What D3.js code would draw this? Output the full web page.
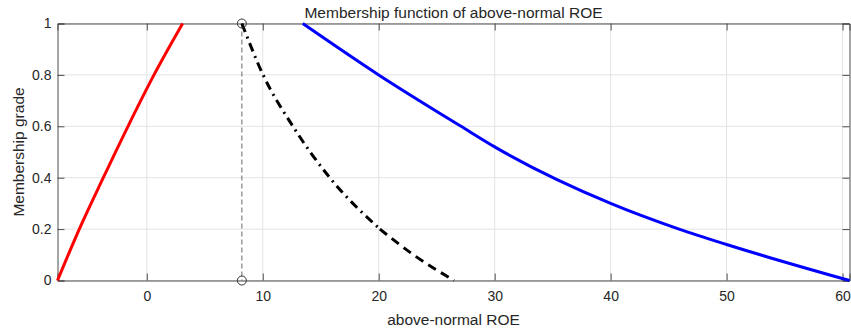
<!DOCTYPE html>
<html>
<head>
<meta charset="utf-8">
<script src="https://cdn.jsdelivr.net/npm/d3@7"></script>
<style>
  body { margin: 0; background: #fff; }
  text { font-family: "Liberation Sans", Arial, sans-serif; fill: #262626; }
</style>
</head>
<body>
<figure id="chart" style="margin:0"></figure>
<script>
// membership curves (x = above-normal ROE, y = grade)
const redX = [-7.7, -5.82, -3.75, -1.62, 0.62, 3.09];
const redY = [0, 0.2, 0.4, 0.6, 0.8, 1];

const blueX = [13.45, 20.0, 27.1, 30.0, 40.0, 45.9, 50.0, 60.6];
const blueY = [1, 0.8, 0.6, 0.52, 0.30, 0.2, 0.14, 0];

// black curve: dash-dot part then dashed part
const blackDashDotX = [8.2, 10.03, 12.6, 15.78, 20.1];
const blackDashDotY = [1, 0.8, 0.6, 0.4, 0.2];
const blackDashX = [20.1, 23.0, 26.5];
const blackDashY = [0.2, 0.1, 0];

const markerX = [8.2, 8.2];
const markerY = [1, 0];

const xTicks = [0, 10, 20, 30, 40, 50, 60];
const yTicks = [0, 0.2, 0.4, 0.6, 0.8, 1];

const width = 851, height = 329;
const margin = { top: 23.5, right: 1.5, bottom: 48.5, left: 57.5 };
const iw = width - margin.left - margin.right;
const ih = height - margin.top - margin.bottom;

const svg = d3.select("#chart").append("svg")
  .attr("width", width)
  .attr("height", height);

const g = svg.append("g").attr("transform", `translate(${margin.left},${margin.top})`);

const x = d3.scaleLinear().domain([-7.7, 60.6]).range([0, iw]);
const y = d3.scaleLinear().domain([0, 1]).range([ih, 0]);

// grid
g.append("g").selectAll("line").data(xTicks).join("line")
  .attr("x1", d => x(d)).attr("x2", d => x(d))
  .attr("y1", 0).attr("y2", ih)
  .attr("stroke", "#e3e3e3").attr("stroke-width", 1);
g.append("g").selectAll("line").data(yTicks).join("line")
  .attr("y1", d => y(d)).attr("y2", d => y(d))
  .attr("x1", 0).attr("x2", iw)
  .attr("stroke", "#e3e3e3").attr("stroke-width", 1);

// axes (ticks inside, box on)
const tickLen = 7;
const xAxis = g.append("g").attr("transform", `translate(0,${ih})`)
  .call(d3.axisBottom(x).tickValues(xTicks).tickSize(-tickLen).tickPadding(11).tickFormat(d3.format("d")));
const xTop = g.append("g")
  .call(d3.axisTop(x).tickValues(xTicks).tickSize(-tickLen).tickFormat(""));
const yAxis = g.append("g")
  .call(d3.axisLeft(y).tickValues(yTicks).tickSize(-tickLen).tickPadding(6).tickFormat(d => d === 0 || d === 1 ? d3.format("d")(d) : d3.format(".1f")(d)));
const yRight = g.append("g").attr("transform", `translate(${iw},0)`)
  .call(d3.axisRight(y).tickValues(yTicks).tickSize(-tickLen).tickFormat(""));

[xAxis, xTop, yAxis, yRight].forEach(a => {
  a.select(".domain").attr("stroke", "#4d4d4d");
  a.selectAll(".tick line").attr("stroke", "#4d4d4d");
  a.selectAll(".tick text").attr("font-size", 14).attr("fill", "#262626");
});

const line = d3.line().x(d => x(d[0])).y(d => y(d[1])).curve(d3.curveMonotoneX);
const zip = (xs, ys) => xs.map((v, i) => [v, ys[i]]);

const plot = g.append("g");

// guide line and markers
plot.append("line")
  .attr("x1", x(markerX[0])).attr("x2", x(markerX[1]))
  .attr("y1", y(markerY[0])).attr("y2", y(markerY[1]))
  .attr("stroke", "#666").attr("stroke-width", 1)
  .attr("stroke-dasharray", "5,3");

plot.append("path").datum(zip(redX, redY))
  .attr("d", line).attr("fill", "none")
  .attr("stroke", "#ff0000").attr("stroke-width", 3);

plot.append("path").datum(zip(blueX, blueY))
  .attr("d", line).attr("fill", "none")
  .attr("stroke", "#0000ff").attr("stroke-width", 3);

plot.append("path").datum(zip(blackDashDotX, blackDashDotY))
  .attr("d", line).attr("fill", "none")
  .attr("stroke", "#000").attr("stroke-width", 3)
  .attr("stroke-dasharray", "9,5,2,5");
plot.append("path").datum(zip(blackDashX, blackDashY))
  .attr("d", line).attr("fill", "none")
  .attr("stroke", "#000").attr("stroke-width", 3)
  .attr("stroke-dasharray", "9,6");

plot.selectAll("circle").data(zip(markerX, markerY)).join("circle")
  .attr("cx", d => x(d[0])).attr("cy", d => y(d[1]))
  .attr("r", 4.5).attr("fill", "none")
  .attr("stroke", "#333").attr("stroke-width", 1);

// labels
svg.append("text")
  .attr("x", margin.left + iw / 2).attr("y", 18)
  .attr("text-anchor", "middle").attr("font-size", 15.5)
  .text("Membership function of above-normal ROE");

svg.append("text")
  .attr("x", margin.left + iw / 2).attr("y", 325)
  .attr("text-anchor", "middle").attr("font-size", 15.5)
  .text("above-normal ROE");

svg.append("text")
  .attr("transform", `translate(24,${margin.top + ih / 2}) rotate(-90)`)
  .attr("text-anchor", "middle").attr("font-size", 15.5)
  .text("Membership grade");
</script>
</body>
</html>
